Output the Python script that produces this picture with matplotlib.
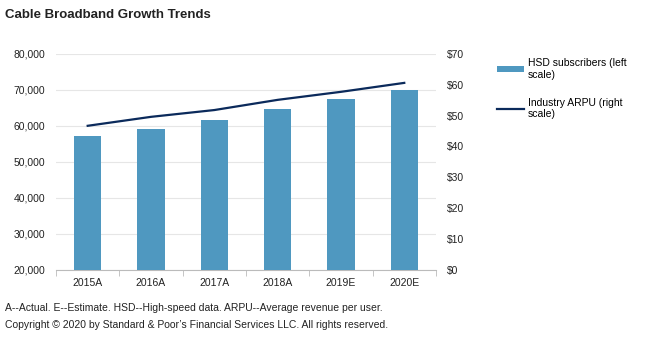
import numpy as np
import matplotlib.pyplot as plt
from matplotlib.ticker import FuncFormatter, FixedLocator

plt.rcParams['font.family'] = ['Liberation Sans', 'DejaVu Sans']

years = ['2015A', '2016A', '2017A', '2018A', '2019E', '2020E']
hsd_subscribers = [57200, 59200, 61700, 64700, 67500, 70000]
industry_arpu = [46.7, 49.6, 51.8, 55.1, 57.7, 60.6]

bar_color = '#4F98C0'
line_color = '#0B2A5B'

fig = plt.figure(figsize=(6.63, 3.52), dpi=100)
ax = fig.add_axes([0.0845, 0.233, 0.573, 0.614])
ax2 = ax.twinx()

x = np.arange(len(years))
ax.bar(x, hsd_subscribers, width=0.43, color=bar_color, zorder=3,
       label='HSD subscribers (left\nscale)')
ax2.plot(x, industry_arpu, color=line_color, linewidth=1.6, zorder=4,
         label='Industry ARPU (right\nscale)')

ax.set_ylim(20000, 80000)
ax.set_yticks(range(20000, 80001, 10000))
ax.yaxis.set_major_formatter(FuncFormatter(lambda v, p: f'{int(v):,}'))
ax2.set_ylim(0, 70)
ax2.set_yticks(range(0, 71, 10))
ax2.yaxis.set_major_formatter(FuncFormatter(lambda v, p: f'${int(v)}'))

ax.set_xlim(-0.5, len(years) - 0.5)
ax.set_xticks(x)
ax.set_xticklabels(years)
ax.xaxis.set_minor_locator(FixedLocator(np.arange(-0.5, len(years), 1)))
ax.tick_params(axis='x', which='major', length=0, pad=6, labelsize=7.5, colors='#222222')
ax.tick_params(axis='x', which='minor', length=4, color='#BBBBBB', direction='out')
ax.tick_params(axis='y', length=0, pad=8, labelsize=7.5, colors='#222222')
ax2.tick_params(axis='y', length=0, pad=8, labelsize=7.5, colors='#222222')

ax.grid(axis='y', color='#E6E6E6', linewidth=0.8, zorder=0)
for a in (ax, ax2):
    for s in ('top', 'left', 'right'):
        a.spines[s].set_visible(False)
    a.spines['bottom'].set_color('#BBBBBB')
ax2.spines['bottom'].set_visible(False)

h1, l1 = ax.get_legend_handles_labels()
h2, l2 = ax2.get_legend_handles_labels()
fig.legend(h1 + h2, l1 + l2, loc='upper left', bbox_to_anchor=(0.743, 0.847),
           frameon=False, fontsize=7.5, handlelength=2.6, handleheight=0.45,
           labelspacing=1.75, handletextpad=0.35, borderaxespad=0)

fig.text(0.008, 0.957, 'Cable Broadband Growth Trends', fontsize=9.5,
         fontweight='bold', color='#222222', va='center')
fig.text(0.008, 0.125, 'A--Actual. E--Estimate. HSD--High-speed data. ARPU--Average revenue per user.',
         fontsize=7.5, color='#222222', va='center')
fig.text(0.008, 0.077, 'Copyright \u00a9 2020 by Standard & Poor\u2019s Financial Services LLC. All rights reserved.',
         fontsize=7.5, color='#222222', va='center')

fig.savefig('out.png', dpi=100)
